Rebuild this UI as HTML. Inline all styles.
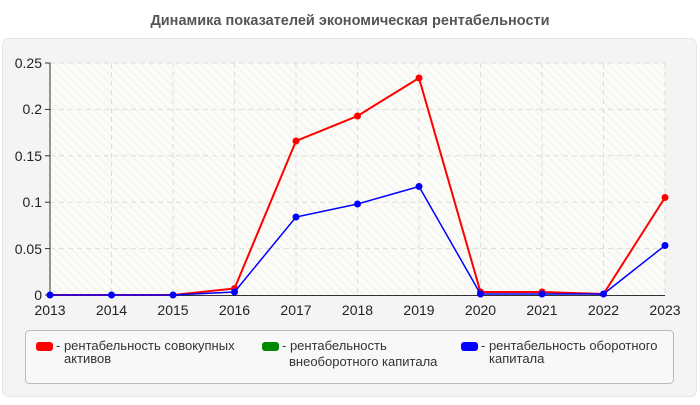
<!DOCTYPE html>
<html><head><meta charset="utf-8"><style>
body{margin:0;background:#fff;width:700px;height:400px;overflow:hidden;font-family:"Liberation Sans",sans-serif}
</style></head><body>
<svg width="700" height="400" xmlns="http://www.w3.org/2000/svg" font-family="Liberation Sans, sans-serif">
<defs>
<pattern id="h" width="6" height="6" patternUnits="userSpaceOnUse" patternTransform="rotate(-45)">
<rect width="6" height="6" fill="#fbfbf7"/><line x1="0" y1="0" x2="0" y2="6" stroke="#f0f0ee" stroke-width="2"/>
</pattern>
</defs>
<text x="350" y="25" text-anchor="middle" font-size="14.5" font-weight="bold" fill="#555">Динамика показателей экономическая рентабельности</text>
<rect x="2.5" y="38.5" width="694" height="358" rx="6" fill="#f4f4f4" stroke="#e6e6e6"/>
<rect x="50" y="63" width="615" height="232" fill="url(#h)"/>
<g stroke="#ddd" stroke-dasharray="5,4" stroke-width="1">
<line x1="50" y1="63" x2="665" y2="63" stroke-dasharray=""/>
<line x1="50" y1="109.4" x2="665" y2="109.4"/><line x1="50" y1="155.8" x2="665" y2="155.8"/>
<line x1="50" y1="202.2" x2="665" y2="202.2"/><line x1="50" y1="248.6" x2="665" y2="248.6"/>
<line x1="111.5" y1="63" x2="111.5" y2="295"/><line x1="173" y1="63" x2="173" y2="295"/>
<line x1="234.5" y1="63" x2="234.5" y2="295"/><line x1="296" y1="63" x2="296" y2="295"/>
<line x1="357.5" y1="63" x2="357.5" y2="295"/><line x1="419" y1="63" x2="419" y2="295"/>
<line x1="480.5" y1="63" x2="480.5" y2="295"/><line x1="542" y1="63" x2="542" y2="295"/>
<line x1="603.5" y1="63" x2="603.5" y2="295"/><line x1="665" y1="63" x2="665" y2="295"/>
</g>
<line x1="50" y1="63" x2="50" y2="295" stroke="#333"/>
<line x1="50" y1="295.5" x2="665" y2="295.5" stroke="#333"/>
<g stroke="#333"><line x1="45" y1="63" x2="50" y2="63"/><line x1="45" y1="109.4" x2="50" y2="109.4"/><line x1="45" y1="155.8" x2="50" y2="155.8"/><line x1="45" y1="202.2" x2="50" y2="202.2"/><line x1="45" y1="248.6" x2="50" y2="248.6"/><line x1="45" y1="295" x2="50" y2="295"/></g>
<g font-size="14" fill="#222" text-anchor="end">
<text x="42" y="68">0.25</text><text x="42" y="114">0.2</text><text x="42" y="161">0.15</text><text x="42" y="207">0.1</text><text x="42" y="254">0.05</text><text x="42" y="300">0</text>
</g>
<g font-size="14" fill="#222" text-anchor="middle">
<text x="50" y="315">2013</text><text x="111.5" y="315">2014</text><text x="173" y="315">2015</text><text x="234.5" y="315">2016</text><text x="296" y="315">2017</text><text x="357.5" y="315">2018</text><text x="419" y="315">2019</text><text x="480.5" y="315">2020</text><text x="542" y="315">2021</text><text x="603.5" y="315">2022</text><text x="665" y="315">2023</text>
</g>
<polyline fill="none" stroke="#f00" stroke-width="2" points="50,295 111.5,295 173,295 234.5,288.5 296,141 357.5,116 419,78 480.5,292 542,292 603.5,294 665,197.5"/>
<g fill="#f00"><circle cx="234.5" cy="288.5" r="3.5"/><circle cx="296" cy="141" r="3.5"/><circle cx="357.5" cy="116" r="3.5"/><circle cx="419" cy="78" r="3.5"/><circle cx="480.5" cy="292" r="3.5"/><circle cx="542" cy="292" r="3.5"/><circle cx="665" cy="197.5" r="3.5"/></g>
<polyline fill="none" stroke="#00f" stroke-width="1.5" points="50,295 111.5,295 173,295 234.5,292 296,217 357.5,204 419,186.5 480.5,294 542,294 603.5,294 665,245.5"/>
<g fill="#00f"><circle cx="50" cy="295" r="3.5"/><circle cx="111.5" cy="295" r="3.5"/><circle cx="173" cy="295" r="3.5"/><circle cx="234.5" cy="292" r="3.5"/><circle cx="296" cy="217" r="3.5"/><circle cx="357.5" cy="204" r="3.5"/><circle cx="419" cy="186.5" r="3.5"/><circle cx="480.5" cy="294" r="3.5"/><circle cx="542" cy="294" r="3.5"/><circle cx="603.5" cy="294" r="3.5"/><circle cx="665" cy="245.5" r="3.5"/></g>
<rect x="25.5" y="330.5" width="648" height="53" rx="4" fill="#f8f8f8" stroke="#bbb"/>
<rect x="36" y="342" width="17" height="9" rx="3" fill="#f00"/>
<rect x="262" y="342" width="17" height="9" rx="3" fill="#080"/>
<rect x="461" y="342" width="17" height="9" rx="3" fill="#00f"/>
<g font-size="13" fill="#333">
<text x="56" y="350">- рентабельность совокупных</text><text x="64" y="363">активов</text>
<text x="282" y="350">- рентабельность</text><text x="289" y="366">внеоборотного капитала</text>
<text x="481" y="350">- рентабельность оборотного</text><text x="489" y="363">капитала</text>
</g>
</svg>
</body></html>
